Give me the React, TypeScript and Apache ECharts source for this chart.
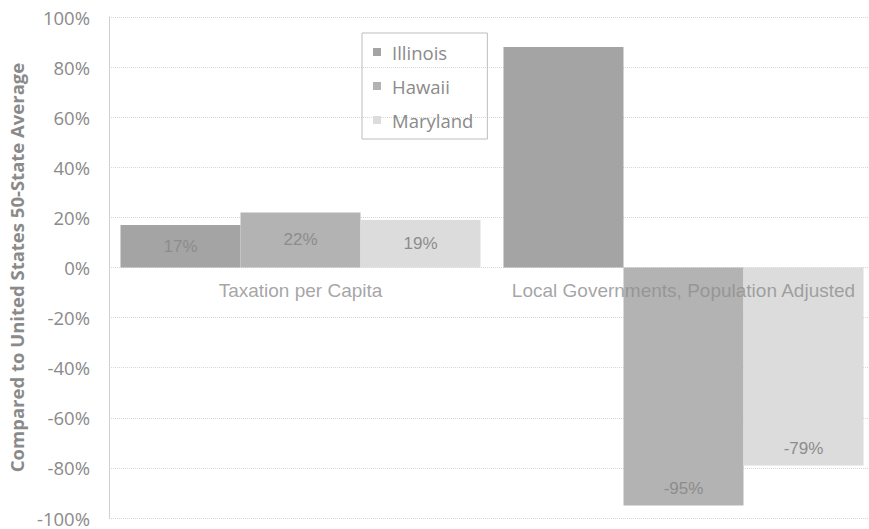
import React, { useEffect, useRef } from "react";
import * as echarts from "echarts";

const categories = ["Taxation per Capita", "Local Governments, Population Adjusted"];
const illinois = [17, 88];
const hawaii = [22, -95];
const maryland = [19, -79];
const seriesNames = ["Illinois", "Hawaii", "Maryland"];
const colors = ["#a4a4a4", "#b3b3b3", "#dcdcdc"];

export default function App() {
  const ref = useRef<HTMLDivElement>(null);
  useEffect(() => {
    if (!ref.current) return;
    const chart = echarts.init(ref.current, null, { renderer: "svg" });
    const mk = (name: string, data: number[], color: string, hideIdx: number[] = []) => ({
      name,
      type: "bar",
      data: data.map((v, i) => ({
        value: v,
        label: {
          show: !hideIdx.includes(i),
          position: v < 0 ? "insideBottom" : "inside",
          distance: 8,
        },
      })),
      itemStyle: { color },
      barGap: "0%",
      barCategoryGap: "6%",
      label: {
        formatter: "{c}%",
        color: "#8c8c8c",
        fontSize: 17,
        fontFamily: "Liberation Sans, Arial, sans-serif",
      },
    });
    chart.setOption({
      animation: false,
      backgroundColor: "#ffffff",
      legend: {
        orient: "vertical",
        left: 362,
        top: 33,
        itemWidth: 8,
        itemHeight: 8,
        itemGap: 14,
        padding: [9, 14, 9, 11],
        borderColor: "#bdbdbd",
        borderWidth: 1,
        textStyle: {
          color: "#8a8a8a",
          fontSize: 18.5,
          lineHeight: 20,
          padding: [0, 0, 0, 6],
          fontFamily: "Open Sans, sans-serif",
        },
        data: seriesNames.map((n) => ({ name: n, icon: "rect" })),
      },
      grid: {
        left: 109,
        width: 766,
        top: 17,
        bottom: 11,
        containLabel: false,
        outerBoundsMode: "none",
      },
      xAxis: {
        type: "category",
        data: categories,
        axisLine: { show: false },
        axisTick: { show: false },
        axisLabel: { show: false },
      },
      yAxis: {
        type: "value",
        min: -100,
        max: 100,
        interval: 20,
        name: "Compared to United States 50-State Average",
        nameLocation: "middle",
        nameGap: 78,
        nameTextStyle: {
          color: "#8a8a8a",
          fontSize: 18.5,
          fontWeight: "bold",
          fontFamily: "Open Sans, sans-serif",
        },
        axisLine: { show: true, lineStyle: { color: "#d0d0d0" } },
        axisTick: { show: false },
        axisLabel: {
          formatter: "{value}%",
          color: "#8a8a8a",
          fontSize: 18.5,
          fontFamily: "Open Sans, sans-serif",
          margin: 19,
        },
        splitLine: { show: true, lineStyle: { color: "#d6d6d6", type: "dotted" } },
      },
      series: [
        mk("Illinois", illinois, colors[0], [1]),
        mk("Hawaii", hawaii, colors[1]),
        mk("Maryland", maryland, colors[2]),
        {
          name: "categoryLabels",
          type: "scatter",
          symbolSize: 0,
          z: 10,
          data: categories.map((c, i) => [i, 0]),
          label: {
            show: true,
            position: "bottom",
            distance: 13,
            formatter: (p: any) => categories[p.dataIndex],
            color: "#8e8e8e",
            fontSize: 19,
            fontFamily: "Liberation Sans, Arial, sans-serif",
          },
          silent: true,
        },
      ],
    });
    return () => chart.dispose();
  }, []);
  return (
    <div
      ref={ref}
      style={{ position: "absolute", left: 0, top: 0, width: 869, height: 529 }}
    />
  );
}
